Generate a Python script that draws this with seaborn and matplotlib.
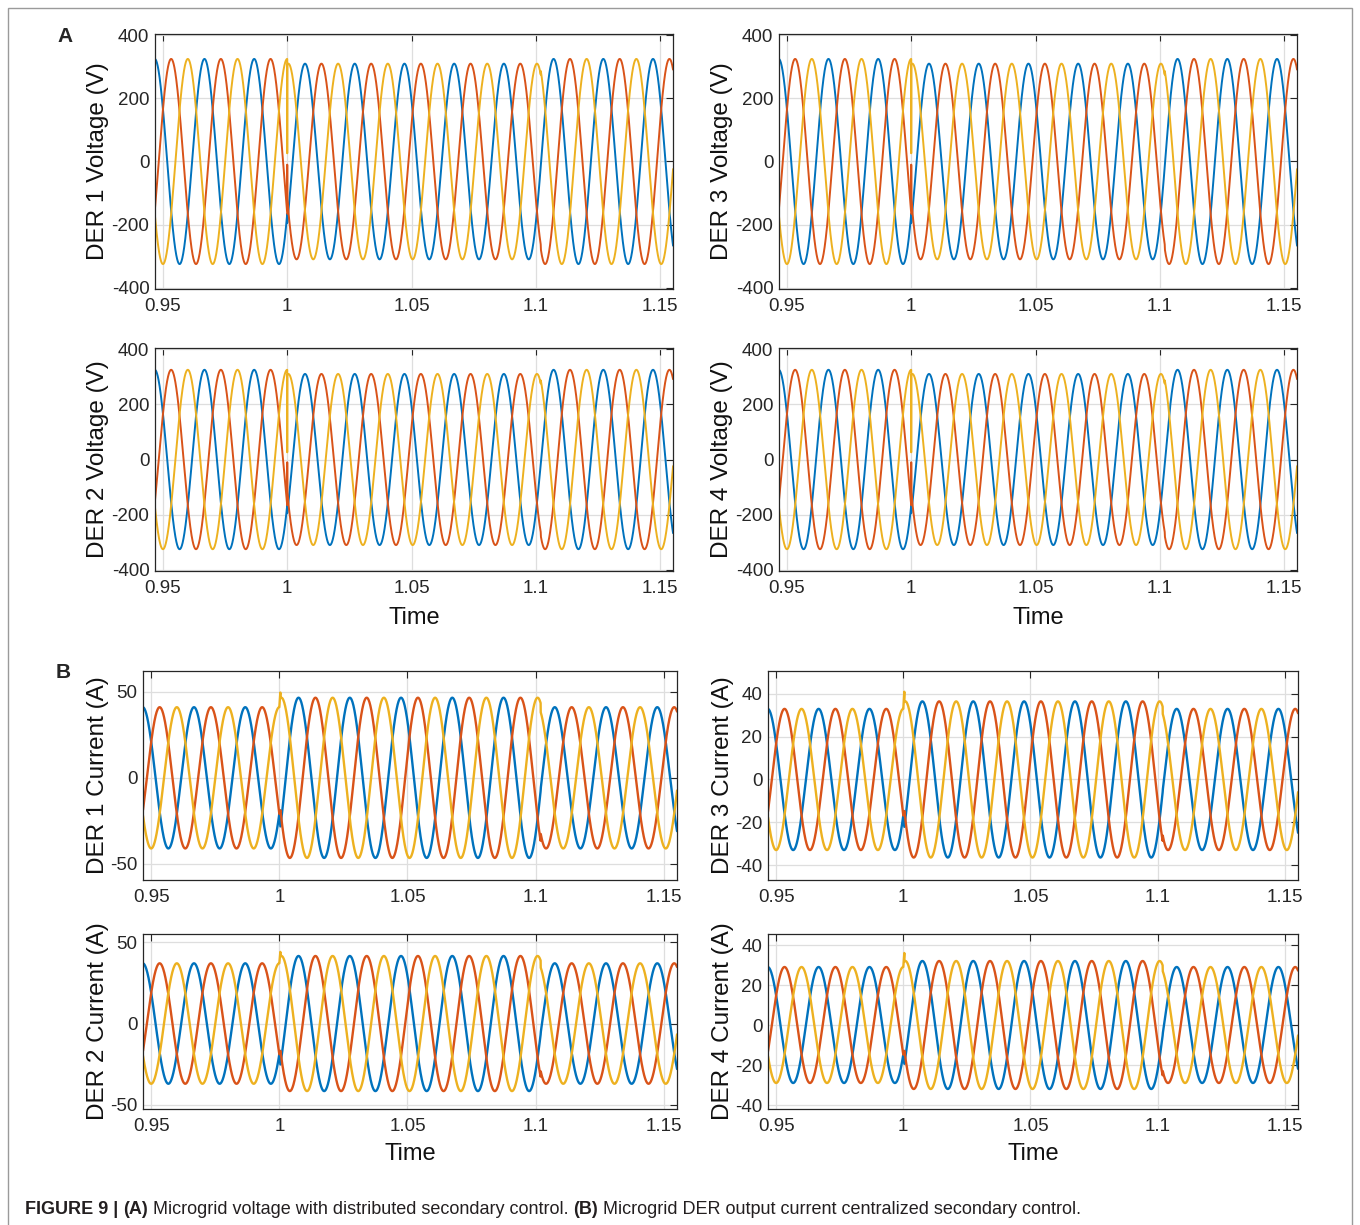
import numpy as np
import pandas as pd
import matplotlib
matplotlib.use("Agg")
import matplotlib.pyplot as plt
from matplotlib.patches import Rectangle
import seaborn as sns

# --- data -----------------------------------------------------------------
t_start, t_end = 0.9468, 1.1552          # visible time window (s)
f_grid = 50                               # Hz, 10 cycles per 0.2 s
dt = 5e-5
peak_times = [0.9467, 0.9533, 0.9600]     # first positive peak: blue, red, yellow
phase_names = ["a", "b", "c"]
phase_colors = ["#0072BD", "#D95319", "#EDB120"]
t_step, t_back = 1.0, 1.102               # secondary control step / recovery

ders = ["DER 1", "DER 2", "DER 3", "DER 4"]

volt_before = [325, 325, 325, 325]
volt_during = [310, 310, 310, 310]
volt_after = [325, 325, 325, 325]
volt_lag = 0.00046
volt_glitch = [np.nan, -10, 26]           # one-sample spikes at t = 1 (blue, red, yellow)
volt_ticks = [-400, -200, 0, 200, 400]
volt_ylim = (-404, 404)

curr_before = [41, 37, 33, 29]
curr_during = [46.5, 41.5, 36.5, 32]
curr_after = [41, 37, 33, 29]
curr_lag = 0.0008
curr_spike = [49.5, 44, 41, 36]           # yellow overshoot right after t = 1
curr_ticks = [[-50, 0, 50], [-50, 0, 50], [-40, -20, 0, 20, 40], [-40, -20, 0, 20, 40]]
curr_ylims = [(-59.3, 62), (-52.5, 55), (-47, 50.7), (-42, 45.5)]

x_ticks = [0.95, 1.0, 1.05, 1.1, 1.15]
x_ticklabels = ["0.95", "1", "1.05", "1.1", "1.15"]


def waveform(k, a0, a1, a2, lag, glitch=np.nan, glitch_dt=0.0):
    t1 = np.arange(t_start, t_step + 1e-9, dt)
    t2 = np.arange(t_step + max(glitch_dt, 0) + dt / 2, t_end + dt, dt)
    if glitch_dt == 0:
        t2 = np.concatenate([[t_step], t2])
    w = 2 * np.pi * f_grid
    y1 = a0 * np.cos(w * (t1 - peak_times[k]))
    amp2 = np.where(t2 < t_back, a1, a2)
    y2 = amp2 * np.cos(w * (t2 - peak_times[k] - lag))
    ts, ys = [t1], [y1]
    if not np.isnan(glitch):
        ts.append([t_step + glitch_dt])
        ys.append([glitch])
    ts.append(t2)
    ys.append(y2)
    return np.concatenate(ts), np.concatenate(ys)


def panel_frame(kind, i):
    rows = []
    for k, name in enumerate(phase_names):
        if kind == "V":
            t, v = waveform(k, volt_before[i], volt_during[i], volt_after[i],
                            volt_lag, volt_glitch[k])
        else:
            spike = curr_spike[i] if k == 2 else np.nan
            t, v = waveform(k, curr_before[i], curr_during[i], curr_after[i],
                            curr_lag, spike, 0.0004)
        rows.append(pd.DataFrame({"t": t, "v": v, "phase": name}))
    return pd.concat(rows, ignore_index=True)


sns.set_style("white")
plt.rcParams["font.family"] = ["Liberation Sans", "DejaVu Sans"]
plt.rcParams["axes.unicode_minus"] = False

W, H = 1360, 1225
fig = plt.figure(figsize=(W / 100, H / 100), dpi=100)


def px_axes(l, t, r, b):
    return fig.add_axes([l / W, 1 - b / H, (r - l) / W, (b - t) / H])


def style(ax, ylim, yticks, ylabel, xlabel_y=None, ylabel_x=-0.09):
    ax.set_xlim(t_start, t_end)
    ax.set_ylim(*ylim)
    ax.set_xticks(x_ticks)
    ax.set_xticklabels(x_ticklabels)
    ax.set_yticks(yticks)
    ax.grid(True, color="#dedede", lw=0.9)
    ax.set_axisbelow(True)
    ax.tick_params(direction="in", top=True, right=True, length=5, width=0.8,
                   labelsize=13.5, colors="#262626", pad=4)
    ax.tick_params(axis="x", pad=6.5)
    for s in ax.spines.values():
        s.set_color("#262626")
        s.set_linewidth(0.9)
    ax.set_ylabel(ylabel, fontsize=17.5, color="#111111")
    ax.yaxis.set_label_coords(ylabel_x, 0.5)
    if xlabel_y is not None:
        ax.set_xlabel("Time", fontsize=17, color="#111111")
        ax.xaxis.set_label_coords(0.5, xlabel_y)
    else:
        ax.set_xlabel("")


# (l, t, r, b) in pixels
volt_boxes = [(155, 34, 673, 289), (155, 348, 673, 571),
              (779, 34, 1297, 289), (779, 348, 1297, 571)]
curr_boxes = [(143, 671, 677, 880), (143, 934, 677, 1109),
              (768, 671, 1298, 880), (768, 934, 1298, 1109)]

for i in range(4):
    ax = px_axes(*volt_boxes[i])
    sns.lineplot(data=panel_frame("V", i), x="t", y="v", hue="phase",
                 hue_order=phase_names, palette=phase_colors, units="phase",
                 estimator=None, sort=False, legend=False, lw=1.4, ax=ax)
    style(ax, volt_ylim, volt_ticks, f"{ders[i]} Voltage (V)",
          xlabel_y=-0.16 if i in (1, 3) else None, ylabel_x=-0.088)

for i in range(4):
    ax = px_axes(*curr_boxes[i])
    sns.lineplot(data=panel_frame("I", i), x="t", y="v", hue="phase",
                 hue_order=phase_names, palette=phase_colors, units="phase",
                 estimator=None, sort=False, legend=False, lw=1.7, ax=ax)
    style(ax, curr_ylims[i], curr_ticks[i], f"{ders[i]} Current (A)",
          xlabel_y=-0.195 if i in (1, 3) else None, ylabel_x=-0.064)

fig.text(65 / W, 1 - 37 / H, "A", fontsize=15, fontweight="bold", ha="center", va="center")
fig.text(63 / W, 1 - 673 / H, "B", fontsize=15, fontweight="bold", ha="center", va="center")

# outer frame
fig.patches.append(Rectangle((8 / W, -0.05), (1352 - 8) / W, 1 - 8 / H + 0.05,
                             transform=fig.transFigure, fill=False,
                             edgecolor="#9a9a9a", lw=1.0))

# caption with bold parts
pieces = [("FIGURE 9 | ", "bold"), ("(A)", "bold"),
          (" Microgrid voltage with distributed secondary control. ", "normal"),
          ("(B)", "bold"),
          (" Microgrid DER output current centralized secondary control.", "normal")]
fig.canvas.draw()
renderer = fig.canvas.get_renderer()
x = 25 / W
for txt, wt in pieces:
    tt = fig.text(x, 1 - 1210 / H, txt, fontsize=13, fontweight=wt, color="#231f20",
                  va="center", ha="left")
    bb = tt.get_window_extent(renderer)
    x += bb.width / W

fig.savefig("out.png", dpi=100)
